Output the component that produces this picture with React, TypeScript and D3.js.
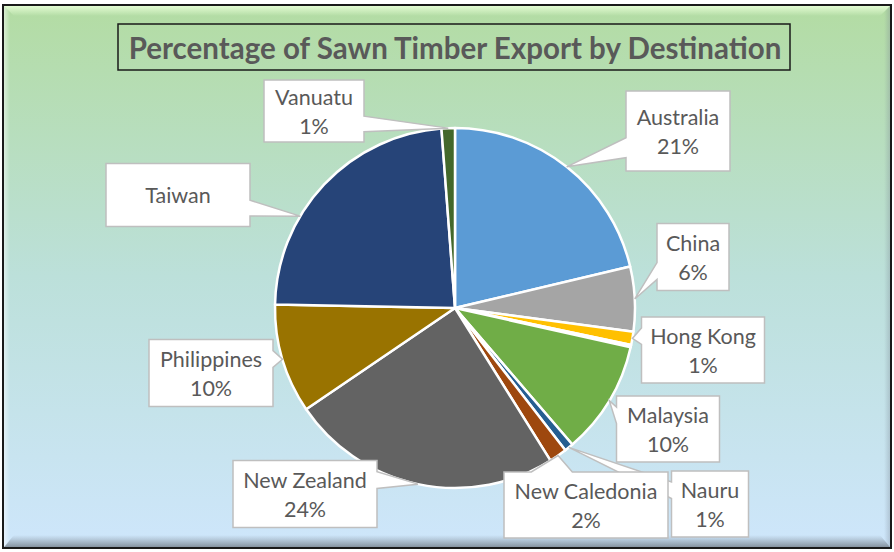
import React from 'react';
import * as d3 from 'd3';

// share of sawn timber exports (percent)
const destinations = ['Australia', 'China', 'Hong Kong', 'Other', 'Malaysia', 'Nauru', 'New Caledonia', 'New Zealand', 'Philippines', 'Taiwan', 'Vanuatu'];
const shares = [21.3, 5.8, 1.2, 0.2, 10.2, 0.8, 1.6, 24.4, 9.8, 23.5, 1.2];
const sliceColors = ['#5B9BD5', '#A5A5A5', '#FFC000', '#4472C4', '#70AD47', '#255E91', '#9E480E', '#636363', '#997300', '#264478', '#43682B'];

const title = 'Percentage of Sawn Timber Export by Destination';

const W = 894;
const H = 552;
const cx = 455;
const cy = 308;
const R = 180;

// callout boxes, placed by hand like in the spreadsheet (centre offset from pie centre)
const callouts = {
  'Australia': { dx: 223, dy: -177, w: 104, h: 80 },
  'China': { dx: 238, dy: -51, w: 72, h: 67 },
  'Hong Kong': { dx: 248, dy: 42, w: 123, h: 66 },
  'Malaysia': { dx: 213, dy: 121, w: 103, h: 66 },
  'Nauru': { dx: 255, dy: 196, w: 77, h: 66 },
  'New Caledonia': { dx: 131, dy: 197, w: 164, h: 66 },
  'New Zealand': { dx: -150, dy: 186, w: 144, h: 67 },
  'Philippines': { dx: -244, dy: 65, w: 124, h: 67 },
  'Taiwan': { dx: -277, dy: -113, w: 144, h: 63, tipAt: 0.35, noValue: true },
  'Vanuatu': { dx: -141, dy: -197, w: 100, h: 62 },
};

const font = 'Lato, "Open Sans", sans-serif';
const textColor = '#595959';

// Office "wedgeRectCallout" outline: box with a pointer to (px, py)
function calloutPath(l, t, w, h, px, py) {
  const r = l + w, b = t + h;
  const hc = l + w / 2, vc = t + h / 2;
  const dxPos = px - hc, dyPos = py - vc;
  const dq = dxPos * h / w;
  const dz = Math.abs(dyPos) - Math.abs(dq);
  const x1 = l + w * (dxPos > 0 ? 7 : 2) / 12;
  const x2 = l + w * (dxPos > 0 ? 10 : 5) / 12;
  const y1 = t + h * (dyPos > 0 ? 7 : 2) / 12;
  const y2 = t + h * (dyPos > 0 ? 10 : 5) / 12;
  const xl = dz > 0 ? l : (dxPos > 0 ? l : px);
  const yl = dz > 0 ? y1 : (dxPos > 0 ? y1 : py);
  const xt = dz > 0 ? (dyPos > 0 ? x1 : px) : x1;
  const yt = dz > 0 ? (dyPos > 0 ? t : py) : t;
  const xr = dz > 0 ? r : (dxPos > 0 ? px : r);
  const yr = dz > 0 ? y1 : (dxPos > 0 ? py : y1);
  const xb = dz > 0 ? (dyPos > 0 ? px : x1) : x1;
  const yb = dz > 0 ? (dyPos > 0 ? py : b) : b;
  const p = d3.path();
  p.moveTo(l, t);
  p.lineTo(x1, t); p.lineTo(xt, yt); p.lineTo(x2, t); p.lineTo(r, t);
  p.lineTo(r, y1); p.lineTo(xr, yr); p.lineTo(r, y2); p.lineTo(r, b);
  p.lineTo(x2, b); p.lineTo(xb, yb); p.lineTo(x1, b); p.lineTo(l, b);
  p.lineTo(l, y2); p.lineTo(xl, yl); p.lineTo(l, y1);
  p.closePath();
  return p.toString();
}

const App = () => {
  const pie = d3.pie<number>().sort(null).value(d => d)(shares);
  const arc = d3.arc<d3.PieArcDatum<number>>().innerRadius(0).outerRadius(R);
  const total = d3.sum(shares);

  return (
    <div style={{ position: 'absolute', left: 0, top: 0 }}>
      <svg width={W} height={H} style={{ display: 'block' }}>
        <defs>
          <linearGradient id="bg" x1="0" y1="0" x2="0" y2="1">
            <stop offset="0" stopColor="#B3DCA3" />
            <stop offset="0.5" stopColor="#BCE0DA" />
            <stop offset="1" stopColor="#CEE6FB" />
          </linearGradient>
          <linearGradient id="bevelTop" x1="0" y1="0" x2="0" y2="1">
            <stop offset="0" stopColor="#E8FFD8" stopOpacity="0.9" />
            <stop offset="1" stopColor="#E8FFD8" stopOpacity="0" />
          </linearGradient>
          <linearGradient id="bevelBottom" x1="0" y1="0" x2="0" y2="1">
            <stop offset="0" stopColor="#8A97A4" stopOpacity="0" />
            <stop offset="1" stopColor="#7E8A96" stopOpacity="0.9" />
          </linearGradient>
          <linearGradient id="bevelLeft" x1="0" y1="0" x2="1" y2="0">
            <stop offset="0" stopColor="#FFFFFF" stopOpacity="0.5" />
            <stop offset="1" stopColor="#FFFFFF" stopOpacity="0" />
          </linearGradient>
          <linearGradient id="bevelRight" x1="0" y1="0" x2="1" y2="0">
            <stop offset="0" stopColor="#7E8A96" stopOpacity="0" />
            <stop offset="1" stopColor="#7E8A96" stopOpacity="0.35" />
          </linearGradient>
        </defs>

        <rect x={0} y={0} width={W} height={H} fill="#FFFFFF" />
        <rect x={4} y={6} width={886} height={541} fill="url(#bg)" />
        {/* bevel edges */}
        <polygon points="4,6 890,6 880,16 14,16" fill="url(#bevelTop)" />
        <polygon points="14,535 880,535 890,547 4,547" fill="url(#bevelBottom)" />
        <polygon points="4,6 10,12 10,541 4,547" fill="url(#bevelLeft)" />
        <polygon points="884,12 890,6 890,547 884,541" fill="url(#bevelRight)" />
        <rect x={3} y={5} width={888} height={543} fill="none" stroke="#1A1A1A" strokeWidth={2} />

        {/* title */}
        <rect x={118} y={24} width={672} height={46} fill="none" stroke="#1A1A1A" strokeWidth={1.5} />
        <text x={455} y={47} textAnchor="middle" dominantBaseline="central"
          fontFamily={font} fontWeight="bold" fontSize={29.5} fill={textColor}>{title}</text>

        {/* slices */}
        <g transform={`translate(${cx},${cy})`}>
          {pie.map((s, i) => (
            <path key={destinations[i]} d={arc(s) || ''} fill={sliceColors[i]} stroke="#FFFFFF" strokeWidth={2.5} strokeLinejoin="round" />
          ))}
        </g>

        {/* data label callouts */}
        {pie.map((s, i) => {
          const name = destinations[i];
          const c = callouts[name];
          if (!c) return null;
          const a = s.startAngle + (s.endAngle - s.startAngle) * (c.tipAt ?? 0.5);
          const px = cx + R * Math.sin(a);
          const py = cy - R * Math.cos(a);
          const l = cx + c.dx - c.w / 2;
          const t = cy + c.dy - c.h / 2;
          const pct = `${Math.round((s.value / total) * 100)}%`;
          const lines = c.noValue ? [name] : [name, pct];
          const lineH = 29;
          return (
            <g key={`label-${name}`}>
              <path d={calloutPath(l, t, c.w, c.h, px, py)} fill="#FFFFFF" stroke="#BFBFBF" strokeWidth={1.5} />
              {lines.map((ln, k) => (
                <text key={k} x={cx + c.dx} y={cy + c.dy + (k - (lines.length - 1) / 2) * lineH}
                  textAnchor="middle" dominantBaseline="central"
                  fontFamily={font} fontSize={21.5} fill={textColor}>{ln}</text>
              ))}
            </g>
          );
        })}
      </svg>
    </div>
  );
};

export default App;
